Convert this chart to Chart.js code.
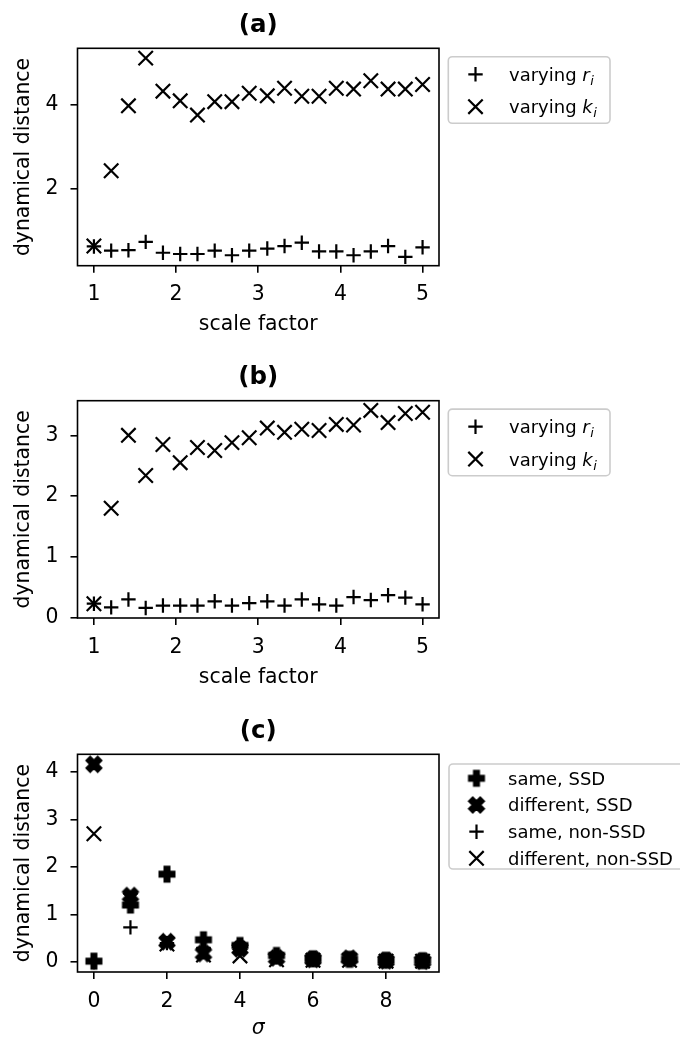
<!DOCTYPE html>
<html>
<head>
<meta charset="utf-8">
<script src="https://cdn.jsdelivr.net/npm/chart.js@4.4.0/dist/chart.umd.min.js"></script>
<style>
  html, body { margin: 0; padding: 0; background: #fff; }
  #wrap { position: relative; width: 680px; height: 1039px; overflow: hidden; }
  canvas { position: absolute; left: 0; }
</style>
</head>
<body>
<div id="wrap">
  <canvas id="chartA" width="680" height="350" style="top:0px"></canvas>
  <canvas id="chartB" width="680" height="355" style="top:350px"></canvas>
  <canvas id="chartC" width="680" height="334" style="top:705px"></canvas>
</div>
<script>
// ---- data ----
const scaleFactors = [1.00, 1.21, 1.42, 1.63, 1.84, 2.05, 2.26, 2.47, 2.68, 2.89,
                      3.11, 3.32, 3.53, 3.74, 3.95, 4.16, 4.37, 4.58, 4.79, 5.00];

// panel (a)
const distR_a = [0.62, 0.52, 0.53, 0.73, 0.47, 0.44, 0.44, 0.52, 0.41, 0.52,
                 0.57, 0.63, 0.71, 0.50, 0.50, 0.41, 0.50, 0.63, 0.37, 0.60];
const distK_a = [0.63, 2.43, 3.98, 5.12, 4.33, 4.10, 3.76, 4.08, 4.08, 4.28,
                 4.22, 4.40, 4.21, 4.21, 4.40, 4.38, 4.58, 4.38, 4.38, 4.49];

// panel (b)
const distR_b = [0.23, 0.17, 0.30, 0.16, 0.20, 0.20, 0.20, 0.27, 0.20, 0.24,
                 0.27, 0.20, 0.30, 0.22, 0.20, 0.34, 0.29, 0.37, 0.33, 0.22];
const distK_b = [0.23, 1.80, 3.00, 2.34, 2.85, 2.55, 2.80, 2.75, 2.88, 2.96,
                 3.12, 3.05, 3.10, 3.08, 3.18, 3.17, 3.41, 3.21, 3.36, 3.38];

// panel (c)
const sigmas = [0, 1, 2, 3, 4, 5, 6, 7, 8, 9];
const sameSSD     = [0.02, 1.20, 1.85, 0.47, 0.35, 0.14, 0.07, 0.06, 0.04, 0.03];
const diffSSD     = [4.16, 1.40, 0.43, 0.18, 0.28, 0.09, 0.06, 0.08, 0.03, 0.02];
const sameNonSSD  = [0.00, 0.73, 0.40, 0.30, 0.30, 0.10, 0.05, 0.05, 0.02, 0.02];
const diffNonSSD  = [2.70, 1.30, 0.38, 0.15, 0.13, 0.05, 0.04, 0.04, 0.02, 0.02];

// ticks
const scaleTicks = [1, 2, 3, 4, 5];
const yTicksA = [2, 4];
const yTicksB = [0, 1, 2, 3];
const sigmaTicks = [0, 2, 4, 6, 8];
const yTicksC = [0, 1, 2, 3, 4];

// ---- helpers ----
const FONT = 'DejaVu Sans';
const TICK_SIZE = 20.4;
const PLUS_R = 7.2;
const LINE_W = 2.2;

// filled plus ("P") and filled x ("X") markers
function filledMarker(kind) {
  const c = document.createElement('canvas');
  c.width = c.height = 22;
  const g = c.getContext('2d');
  const shape = kind === 'P'
    ? [[-1,-3],[1,-3],[1,-1],[3,-1],[3,1],[1,1],[1,3],[-1,3],[-1,1],[-3,1],[-3,-1],[-1,-1]].map(([x, y]) => [x / 6, y / 6])
    : [[-1,-2],[0,-1],[1,-2],[2,-1],[1,0],[2,1],[1,2],[0,1],[-1,2],[-2,1],[-1,0],[-2,-1]].map(([x, y]) => [x / 4, y / 4]);
  const s = 15;
  g.beginPath();
  shape.forEach(([x, y], i) => {
    const px = 11 + x * s, py = 11 + y * s;
    if (i) g.lineTo(px, py); else g.moveTo(px, py);
  });
  g.closePath();
  g.fillStyle = '#000';
  g.fill();
  g.lineWidth = 2;
  g.strokeStyle = '#000';
  g.stroke();
  return c;
}
const markerP = filledMarker('P');
const markerX = filledMarker('X');

function points(xs, ys) {
  return xs.map((x, i) => ({ x, y: ys[i] }));
}

function markerSet(label, data, marker) {
  const base = {
    label, data, marker, showLine: false, clip: false,
    borderColor: '#000', backgroundColor: '#000',
    pointBorderWidth: LINE_W, pointHoverBorderWidth: LINE_W
  };
  if (marker === '+') return { ...base, pointStyle: 'cross', pointRadius: PLUS_R, pointHoverRadius: PLUS_R };
  if (marker === 'x') {
    const r = PLUS_R / Math.SQRT1_2;
    return { ...base, pointStyle: 'crossRot', pointRadius: r, pointHoverRadius: r };
  }
  const img = marker === 'P' ? markerP : markerX;
  return { ...base, pointStyle: img, pointRadius: 10, pointHoverRadius: 10 };
}

// draw a legend marker by hand
function drawMarker(ctx, marker, x, y) {
  const r = PLUS_R;
  ctx.save();
  ctx.strokeStyle = '#000';
  ctx.lineWidth = LINE_W;
  ctx.beginPath();
  if (marker === '+') {
    ctx.moveTo(x - r, y); ctx.lineTo(x + r, y);
    ctx.moveTo(x, y - r); ctx.lineTo(x, y + r);
    ctx.stroke();
  } else if (marker === 'x') {
    ctx.moveTo(x - r, y - r); ctx.lineTo(x + r, y + r);
    ctx.moveTo(x + r, y - r); ctx.lineTo(x - r, y + r);
    ctx.stroke();
  } else {
    const img = marker === 'P' ? markerP : markerX;
    ctx.drawImage(img, x - 11, y - 11);
  }
  ctx.restore();
}

// label like "varying r_i": last token drawn as italic math with subscript
function drawLabel(ctx, text, x, y, size) {
  const m = text.match(/^(.*?) ([A-Za-z])_([A-Za-z])$/);
  ctx.textAlign = 'left';
  ctx.textBaseline = 'alphabetic';
  const base = y + size * 0.36;
  ctx.font = `${size}px "${FONT}"`;
  if (!m) {
    ctx.fillText(text, x, base);
    return;
  }
  ctx.fillText(m[1], x, base);
  let cx = x + ctx.measureText(m[1] + ' ').width;
  ctx.font = `italic ${size}px "${FONT}"`;
  ctx.fillText(m[2], cx, base);
  cx += ctx.measureText(m[2]).width + 0.5;
  ctx.font = `italic ${size * 0.72}px "${FONT}"`;
  ctx.fillText(m[3], cx, base + size * 0.22);
}

// frame, panel title and legend box
const decor = {
  id: 'decor',
  afterDraw(chart, args, opts) {
    const { ctx, chartArea: a } = chart;
    ctx.save();
    ctx.strokeStyle = '#000';
    ctx.lineWidth = 1.6;
    ctx.strokeRect(a.left, a.top, a.right - a.left, a.bottom - a.top);

    ctx.fillStyle = '#000';
    ctx.font = `bold 24.5px "${FONT}"`;
    ctx.textAlign = 'center';
    ctx.textBaseline = 'middle';
    ctx.fillText(opts.title, (a.left + a.right) / 2, a.top - 23);

    const L = opts.legend;
    const bx = a.right + L.dx, by = a.top + L.dy;
    ctx.beginPath();
    ctx.roundRect(bx, by, L.w, L.h, 4);
    ctx.fillStyle = 'rgba(255,255,255,0.8)';
    ctx.fill();
    ctx.strokeStyle = '#cccccc';
    ctx.lineWidth = 1.6;
    ctx.stroke();

    ctx.fillStyle = '#000';
    chart.data.datasets.forEach((ds, i) => {
      const ry = a.top + L.rows[i];
      drawMarker(ctx, ds.marker, a.right + L.mx, ry);
      drawLabel(ctx, ds.label, a.right + L.tx, ry, L.size);
    });
    ctx.restore();
  }
};

function axisGrid() {
  return { display: true, drawOnChartArea: false, drawTicks: true, tickLength: 7, color: '#000', lineWidth: 1.6 };
}

function makeChart(id, cfg) {
  const canvas = document.getElementById(id);
  const H = canvas.height;
  return new Chart(canvas, {
    type: 'scatter',
    data: { datasets: cfg.datasets },
    options: {
      responsive: false,
      animation: false,
      events: [],
      layout: { padding: { top: cfg.plotTop, right: 241, left: 0, bottom: 0 } },
      plugins: {
        legend: { display: false },
        tooltip: { enabled: false },
        decor: { title: cfg.title, legend: cfg.legend }
      },
      scales: {
        x: {
          type: 'linear', min: cfg.xMin, max: cfg.xMax,
          afterBuildTicks: s => { s.ticks = cfg.xTicks.map(v => ({ value: v })); },
          afterFit: s => { s.height = H - cfg.plotBottom; },
          grid: axisGrid(),
          border: { display: false },
          ticks: { color: '#000', padding: 10, maxRotation: 0, autoSkip: false,
                   font: { family: FONT, size: TICK_SIZE }, callback: v => String(v) },
          title: { display: true, text: cfg.xTitle, color: '#000',
                   font: { family: FONT, size: TICK_SIZE, lineHeight: 1, style: cfg.xTitleStyle || 'normal' },
                   padding: { top: 0, bottom: cfg.xTitlePad } }
        },
        y: {
          type: 'linear', min: cfg.yMin, max: cfg.yMax,
          afterBuildTicks: s => { s.ticks = cfg.yTicks.map(v => ({ value: v })); },
          afterFit: s => { s.width = 77.5; },
          grid: axisGrid(),
          border: { display: false },
          ticks: { color: '#000', padding: 12, font: { family: FONT, size: TICK_SIZE }, callback: v => String(v) },
          title: { display: true, text: 'dynamical distance', color: '#000',
                   font: { family: FONT, size: TICK_SIZE, lineHeight: 1 },
                   padding: { top: 14, bottom: 0 } }
        }
      }
    },
    plugins: [decor]
  });
}

const legendAB = { dx: 9.3, dy: 8.4, w: 161.7, h: 66.6, rows: [26, 58.4], mx: 36.5, tx: 70, size: 18 };
const legendC = { dx: 10, dy: 9.7, w: 250, h: 105, rows: [24, 50.7, 77.4, 104], mx: 37.5, tx: 69, size: 18 };

makeChart('chartA', {
  title: '(a)', plotTop: 48.3, plotBottom: 265.7,
  xMin: 0.8, xMax: 5.2, xTicks: scaleTicks, xTitle: 'scale factor', xTitlePad: 14.6,
  yMin: 0.16, yMax: 5.355, yTicks: yTicksA,
  legend: legendAB,
  datasets: [
    markerSet('varying r_i', points(scaleFactors, distR_a), '+'),
    markerSet('varying k_i', points(scaleFactors, distK_a), 'x')
  ]
});

makeChart('chartB', {
  title: '(b)', plotTop: 50.7, plotBottom: 268,
  xMin: 0.8, xMax: 5.2, xTicks: scaleTicks, xTitle: 'scale factor', xTitlePad: 16.6,
  yMin: -0.005, yMax: 3.57, yTicks: yTicksB,
  legend: legendAB,
  datasets: [
    markerSet('varying r_i', points(scaleFactors, distR_b), '+'),
    markerSet('varying k_i', points(scaleFactors, distK_b), 'x')
  ]
});

makeChart('chartC', {
  title: '(c)', plotTop: 49.3, plotBottom: 267,
  xMin: -0.45, xMax: 9.45, xTicks: sigmaTicks, xTitle: 'σ', xTitleStyle: 'italic', xTitlePad: 0,
  yMin: -0.208, yMax: 4.37, yTicks: yTicksC,
  legend: legendC,
  datasets: [
    markerSet('same, SSD', points(sigmas, sameSSD), 'P'),
    markerSet('different, SSD', points(sigmas, diffSSD), 'X'),
    markerSet('same, non-SSD', points(sigmas, sameNonSSD), '+'),
    markerSet('different, non-SSD', points(sigmas, diffNonSSD), 'x')
  ]
});
</script>
</body>
</html>
